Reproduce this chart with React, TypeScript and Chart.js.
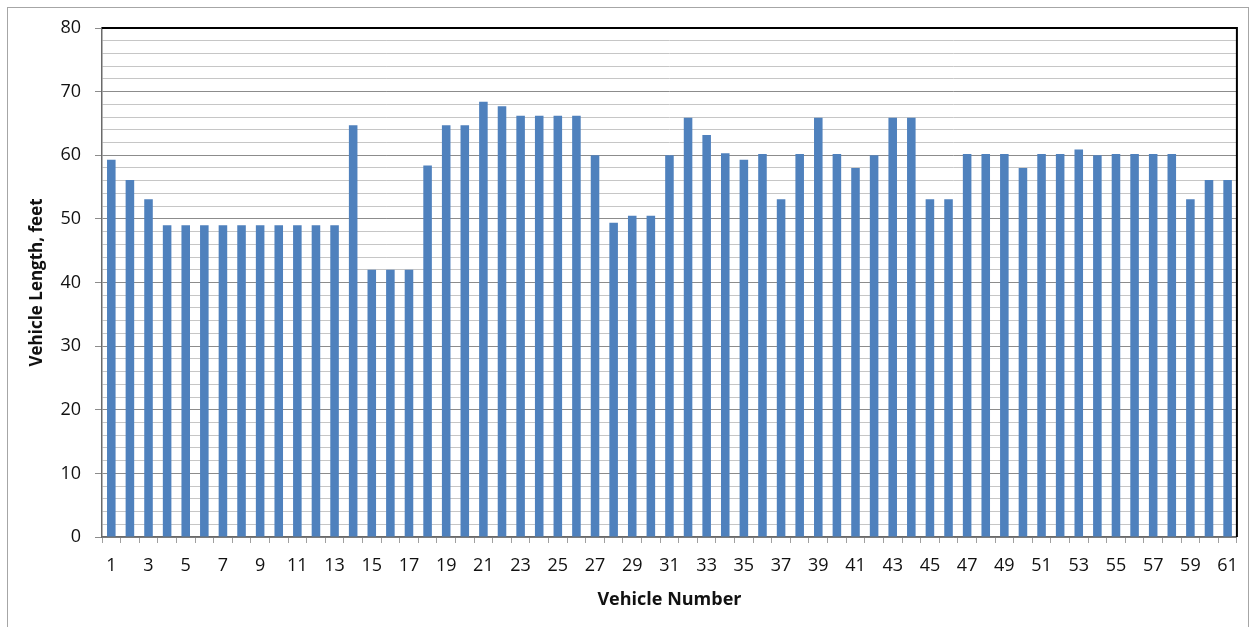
import React, { useEffect, useRef } from "react";
import { Chart, registerables } from "chart.js";

Chart.register(...registerables);

const vehicleNumbers: string[] = Array.from({ length: 61 }, (_, i) => String(i + 1));
const vehicleLengths: number[] = [
  59.3, 56.1, 53.1, 49, 49, 49, 49, 49, 49, 49,
  49, 49, 49, 64.7, 42, 42, 42, 58.4, 64.7, 64.7,
  68.4, 67.7, 66.2, 66.2, 66.2, 66.2, 60.0, 49.4, 50.5, 50.5,
  60.0, 65.9, 63.2, 60.3, 59.3, 60.2, 53.1, 60.2, 65.9, 60.2,
  58.0, 60.0, 65.9, 65.9, 53.1, 53.1, 60.2, 60.2, 60.2, 58.0,
  60.2, 60.2, 60.9, 60.0, 60.2, 60.2, 60.2, 60.2, 53.1, 56.1,
  56.1,
];
const yMin = 0;
const yMax = 80;
const yMinorStep = 2;
const yMajorStep = 10;
const xTitle = "Vehicle Number";
const yTitle = "Vehicle Length, feet";

const FONT = "'Open Sans', 'DejaVu Sans', sans-serif";

const framePlugin = {
  id: "framePlugin",
  beforeDraw(chart: any) {
    const ctx = chart.ctx;
    ctx.save();
    ctx.strokeStyle = "#a6a6a6";
    ctx.lineWidth = 1;
    ctx.strokeRect(7.5, 7.5, 1241, 640);
    ctx.restore();
  },
  afterDraw(chart: any) {
    const { ctx, chartArea } = chart;
    ctx.save();
    ctx.strokeStyle = "#000000";
    ctx.lineWidth = 2;
    ctx.beginPath();
    ctx.moveTo(chartArea.left, chartArea.top);
    ctx.lineTo(chartArea.right, chartArea.top);
    ctx.lineTo(chartArea.right, chartArea.bottom);
    ctx.stroke();
    ctx.restore();
  },
};

export default function App() {
  const canvasRef = useRef<HTMLCanvasElement | null>(null);

  useEffect(() => {
    if (!canvasRef.current) return;
    const chart = new Chart(canvasRef.current, {
      type: "bar",
      data: {
        labels: vehicleNumbers,
        datasets: [
          {
            data: vehicleLengths,
            backgroundColor: "#4f81bd",
            borderWidth: 0,
            barPercentage: 0.46,
            categoryPercentage: 1,
          },
        ],
      },
      options: {
        responsive: false,
        animation: false,
        layout: { padding: { top: 28, right: 13, left: 0, bottom: 0 } },
        plugins: {
          legend: { display: false },
          tooltip: { enabled: false },
        },
        scales: {
          x: {
            offset: true,
            grid: {
              offset: true,
              drawOnChartArea: false,
              color: "#a0a0a0",
              tickColor: "#a0a0a0",
              tickLength: 6,
              lineWidth: 1,
            },
            border: { color: "#6a6a6a", width: 1.5 },
            ticks: {
              autoSkip: false,
              maxRotation: 0,
              minRotation: 0,
              padding: 12,
              color: "#111111",
              font: { family: FONT, size: 18 },
              callback: (_v: any, i: number) => (i % 2 === 0 ? vehicleNumbers[i] : ""),
            },
            title: {
              display: true,
              text: xTitle,
              color: "#111111",
              font: { family: FONT, size: 18, weight: "bold" },
              padding: { top: 0, bottom: 16 },
            },
            afterFit: (scale: any) => {
              scale.height = 90;
            },
          },
          y: {
            min: yMin,
            max: yMax,
            grid: {
              color: (c: any) =>
                c.tick && c.tick.value % yMajorStep === 0 ? "#8c8c8c" : "#c6c6c6",
              tickColor: (c: any) =>
                c.tick && c.tick.value % yMajorStep === 0 ? "#8c8c8c" : "rgba(0,0,0,0)",
              tickLength: 7,
              lineWidth: 1,
            },
            border: { color: "#6a6a6a", width: 1.5 },
            ticks: {
              stepSize: yMinorStep,
              autoSkip: false,
              padding: 14,
              color: "#111111",
              font: { family: FONT, size: 18 },
              callback: (v: any) => (Number(v) % yMajorStep === 0 ? String(v) : ""),
            },
            title: {
              display: true,
              text: yTitle,
              color: "#111111",
              font: { family: FONT, size: 17, weight: "bold" },
              padding: { top: 27, bottom: 0 },
            },
            afterFit: (scale: any) => {
              scale.width = 102;
            },
          },
        },
      },
      plugins: [framePlugin],
    });
    return () => chart.destroy();
  }, []);

  return (
    <div style={{ position: "fixed", left: 0, top: 0, width: 1250, height: 627, background: "#fff" }}>
      <canvas ref={canvasRef} width={1250} height={627} />
    </div>
  );
}
